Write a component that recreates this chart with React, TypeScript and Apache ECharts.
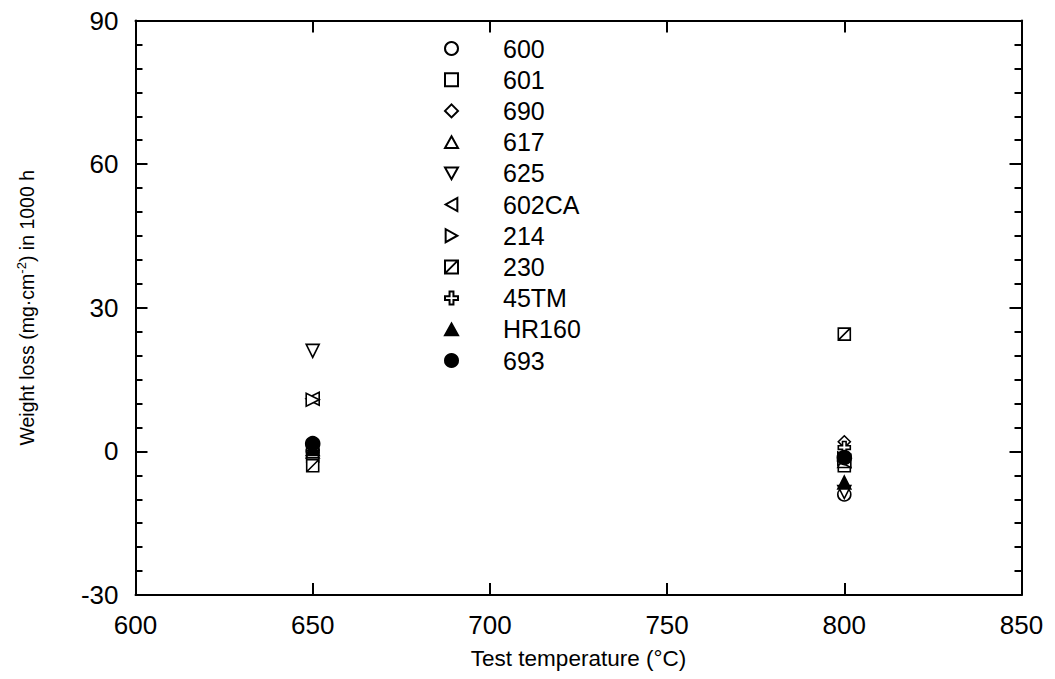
import React, { useEffect, useRef } from "react";
import * as echarts from "echarts";

const temps = [650, 800];
const alloys = ["600", "601", "690", "617", "625", "602CA", "214", "230", "45TM", "HR160", "693"];
// weight loss values at 650 °C and 800 °C
const v600 = [0, -9];
const v601 = [-1, -3];
const v690 = [0.5, 2];
const v617 = [0, -2];
const v625 = [21, -8.5];
const v602CA = [11, -2];
const v214 = [10.8, -1.5];
const v230 = [-3, 24.5];
const v45TM = [0.5, 0.8];
const vHR160 = [0.5, -6.5];
const v693 = [1.6, -1.3];
const values = [v600, v601, v690, v617, v625, v602CA, v214, v230, v45TM, vHR160, v693];
const xTicks = { min: 600, max: 850, interval: 50 };
const yTicks = { min: -30, max: 90, interval: 30 };

const symbols: Record<string, string> = {
  "600": "circle",
  "601": "path://M0,0 L10,0 L10,10 L0,10 Z",
  "690": "path://M5,0 L10,5 L5,10 L0,5 Z",
  "617": "path://M5,0 L10,9 L0,9 Z",
  "625": "path://M0,0 L10,0 L5,9 Z",
  "602CA": "path://M10,0 L10,10 L1,5 Z",
  "214": "path://M0,0 L0,10 L9,5 Z",
  "230": "path://M0,0 L10,0 L10,10 L0,10 Z M0,10 L10,0",
  "45TM": "path://M3.5,0 L6.5,0 L6.5,3.5 L10,3.5 L10,6.5 L6.5,6.5 L6.5,10 L3.5,10 L3.5,6.5 L0,6.5 L0,3.5 L3.5,3.5 Z",
  "HR160": "path://M5,0 L10,9 L0,9 Z",
  "693": "circle",
};
const filled: Record<string, boolean> = { HR160: true, "693": true };
const sizes: Record<string, number> = {
  "600": 13, "601": 12, "690": 12, "617": 13, "625": 13, "602CA": 13, "214": 13, "230": 12, "45TM": 12, HR160: 13, "693": 14,
};

export default function App() {
  const ref = useRef<HTMLDivElement>(null);
  useEffect(() => {
    const chart = echarts.init(ref.current!, undefined, { renderer: "svg" });
    const font = "'Liberation Sans', Arial, sans-serif";
    const axisLine = { show: true, onZero: false, lineStyle: { color: "#000", width: 2 } };
    const tick = { inside: true, length: 12, lineStyle: { color: "#000", width: 2 } };
    const minor = { show: true, splitNumber: 6, length: 7, lineStyle: { color: "#000", width: 2 } };
    const series = alloys.map((name, i) => ({
      name,
      type: "scatter",
      symbol: symbols[name],
      symbolSize: sizes[name],
      data: temps.map((t, j) => [t, values[i][j]]),
      itemStyle: {
        color: filled[name] ? "#000" : "#fff",
        borderColor: "#000",
        borderWidth: 1.6,
        opacity: 1,
      },
      z: 3,
    }));
    chart.setOption({
      animation: false,
      backgroundColor: "#fff",
      grid: { left: 135.5, right: 33.5, top: 20.5, bottom: 84, containLabel: false },
      legend: {
        orient: "vertical",
        left: 439,
        top: 31,
        itemWidth: 13,
        itemHeight: 13,
        itemGap: 6.2,
        selectedMode: false,
        data: alloys,
        textStyle: { fontFamily: font, fontSize: 25, color: "#000", padding: [0, 0, 0, 40], lineHeight: 22 },
      },
      xAxis: [
        {
          type: "value", position: "bottom", ...xTicks,
          axisLine, splitLine: { show: false }, axisTick: tick,
          axisLabel: { color: "#000", fontSize: 26, fontFamily: font, margin: 17 },
          name: "Test temperature (°C)", nameLocation: "middle", nameGap: 52,
          nameTextStyle: { color: "#000", fontSize: 22.5, fontFamily: font },
        },
        {
          type: "value", position: "top", ...xTicks,
          axisLine, splitLine: { show: false }, axisTick: tick,
          axisLabel: { show: false },
        },
      ],
      yAxis: [
        {
          type: "value", position: "left", ...yTicks,
          axisLine, splitLine: { show: false }, axisTick: tick, minorTick: minor,
          axisLabel: { color: "#000", fontSize: 26, fontFamily: font, margin: 17 },
          name: "Weight loss (mg·cm{sup|-2}) in 1000 h", nameLocation: "middle", nameGap: 96,
          nameTextStyle: {
            color: "#000", fontSize: 19.5, fontFamily: font,
            rich: { sup: { fontSize: 13, fontFamily: font, color: "#000", padding: [0, 0, 12, 0] } },
          },
        },
        {
          type: "value", position: "right", ...yTicks,
          axisLine, splitLine: { show: false }, axisTick: tick, minorTick: minor,
          axisLabel: { show: false },
        },
      ],
      series,
    });
    return () => chart.dispose();
  }, []);
  return <div ref={ref} style={{ width: 1055, height: 679, position: "absolute", left: 0, top: 0 }} />;
}
